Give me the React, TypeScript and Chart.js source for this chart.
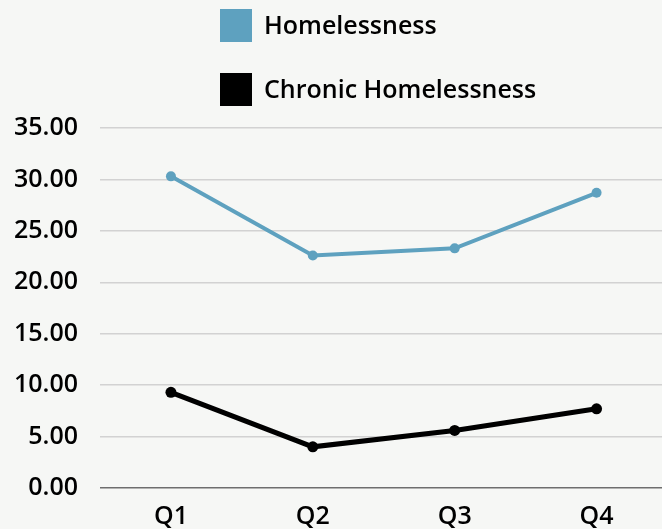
import React, { useEffect, useRef } from "react";
import { Chart, registerables } from "chart.js";

Chart.register(...registerables);

const categories = ["Q1", "Q2", "Q3", "Q4"];
const homelessness = [30.3, 22.6, 23.3, 28.7];
const chronicHomelessness = [9.3, 4.0, 5.6, 7.7];
const seriesLabels = ["Homelessness", "Chronic Homelessness"];
const seriesColors = ["#5ea1bf", "#000000"];

const FONT = "'Open Sans', 'Noto Sans', sans-serif";

const customLegend = {
  id: "customLegend",
  afterDraw(chart: any) {
    const ctx = chart.ctx;
    const x0 = 220;
    const rows = [25.5, 89.5];
    ctx.save();
    ctx.font = `600 25px ${FONT}`;
    ctx.textBaseline = "middle";
    ctx.textAlign = "left";
    chart.data.datasets.forEach((ds: any, i: number) => {
      const cy = rows[i];
      ctx.fillStyle = ds.borderColor;
      ctx.fillRect(x0, cy - 16.5, 32, 33);
      ctx.fillStyle = "#000000";
      ctx.fillText(ds.label, x0 + 44, cy + 1);
    });
    ctx.restore();
  },
};

const bgPlugin = {
  id: "bg",
  beforeDraw(chart: any) {
    const ctx = chart.ctx;
    ctx.save();
    ctx.fillStyle = "#f6f7f5";
    ctx.fillRect(0, 0, chart.width, chart.height);
    ctx.restore();
  },
};

export default function App() {
  const ref = useRef<HTMLCanvasElement>(null);
  useEffect(() => {
    if (!ref.current) return;
    const chart = new Chart(ref.current, {
      type: "line",
      data: {
        labels: categories,
        datasets: [
          {
            label: seriesLabels[0],
            data: homelessness,
            borderColor: seriesColors[0],
            backgroundColor: seriesColors[0],
            borderWidth: 4,
            pointRadius: 5,
            pointBackgroundColor: seriesColors[0],
            pointBorderWidth: 0,
            tension: 0,
          },
          {
            label: seriesLabels[1],
            data: chronicHomelessness,
            borderColor: seriesColors[1],
            backgroundColor: seriesColors[1],
            borderWidth: 5,
            pointRadius: 5.5,
            pointBackgroundColor: seriesColors[1],
            pointBorderWidth: 0,
            tension: 0,
          },
        ],
      },
      options: {
        animation: false,
        responsive: false,
        maintainAspectRatio: false,
        layout: { padding: { top: 128, left: 0, right: 0, bottom: 0 } },
        plugins: {
          legend: { display: false },
          tooltip: { enabled: false },
        },
        scales: {
          x: {
            offset: true,
            grid: { display: false },
            border: { display: false },
            ticks: {
              color: "#000000",
              font: { family: FONT, size: 25, weight: "600" as any },
              padding: 6,
            },
            afterFit: (s: any) => {
              s.height = 41;
            },
          },
          y: {
            min: 0,
            max: 35,
            border: { display: false },
            grid: {
              drawTicks: false,
              color: (c: any) => (c.tick && c.tick.value === 0 ? "#6e6e6e" : "#d2d2d2"),
              lineWidth: 1.5,
            },
            ticks: {
              stepSize: 5,
              color: "#000000",
              padding: 22,
              font: { family: FONT, size: 25, weight: "600" as any },
              callback: (v: any) => Number(v).toFixed(2),
            },
            afterFit: (s: any) => {
              s.width = 100;
            },
          },
        },
      },
      plugins: [bgPlugin, customLegend],
    });
    return () => chart.destroy();
  }, []);
  return (
    <div
      style={{
        position: "fixed",
        left: 0,
        top: 0,
        width: 662,
        height: 529,
        overflow: "hidden",
        background: "#f6f7f5",
      }}
    >
      <canvas ref={ref} width={673} height={529} style={{ width: 673, height: 529, display: "block" }} />
    </div>
  );
}
